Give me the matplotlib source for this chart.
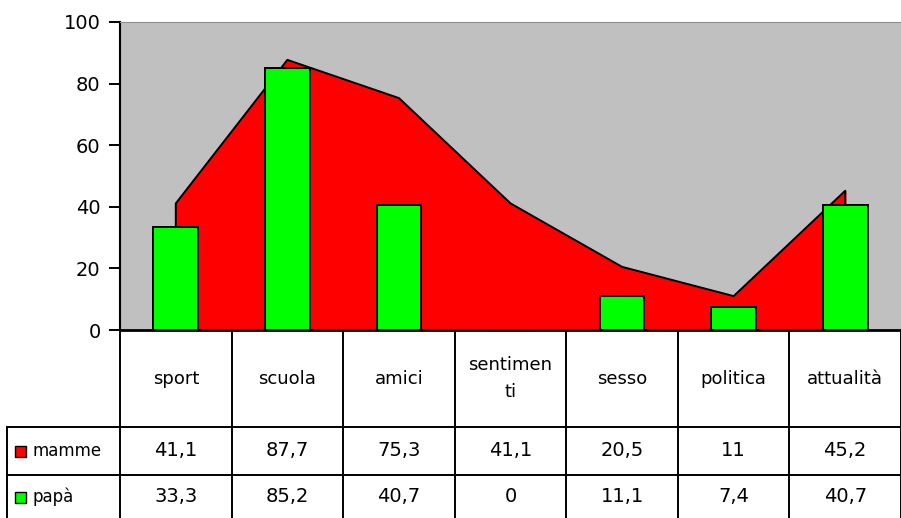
import numpy as np
import matplotlib.pyplot as plt

categorie = ['sport', 'scuola', 'amici', 'sentimen\nti', 'sesso', 'politica', 'attualità']
mamme = [41.1, 87.7, 75.3, 41.1, 20.5, 11, 45.2]
papa = [33.3, 85.2, 40.7, 0, 11.1, 7.4, 40.7]
serie = ['mamme', 'papà']
colori = ['#ff0000', '#00ff00']

W, H = 901, 518
left, top, bottom = 120, 22, 330   # pixel layout of the plot box
row_y = [330, 427, 475, 518]       # table rows (header, mamme, papà)

plt.rcParams['font.family'] = 'DejaVu Sans'
fig = plt.figure(figsize=(W / 100, H / 100), dpi=100)

ax = fig.add_axes([left / W, (H - bottom) / H, (W - left) / W, (bottom - top) / H])
n = len(categorie)
x = np.arange(n)
ax.set_facecolor('#c0c0c0')
ax.fill_between(x, 0, mamme, color=colori[0], zorder=2)
ax.plot(np.r_[x[0], x, x[-1]], np.r_[0, mamme, 0], color='black', lw=1.4, zorder=3)
ax.bar(x, papa, width=0.4, color=colori[1], edgecolor='black', lw=1.4, zorder=4)
ax.set_xlim(-0.5, n - 0.5)
ax.set_ylim(0, 100)
ax.set_yticks(range(0, 101, 20))
ax.tick_params(axis='y', length=8, width=1.4, labelsize=14, pad=6)
ax.set_xticks(np.arange(n + 1) - 0.5)
ax.set_xticklabels([])
ax.tick_params(axis='x', length=0)
ax.spines['right'].set_visible(False)
ax.spines['top'].set_color('#909090')
ax.spines['left'].set_linewidth(1.5)
ax.spines['bottom'].set_linewidth(2)
ax.spines['bottom'].set_zorder(5)

# data table under the chart, in pixel units
tab = fig.add_axes([0, 0, 1, 1])
tab.set_xlim(0, W)
tab.set_ylim(H, 0)
tab.axis('off')
cw = (W - left) / n
edges = [left + i * cw for i in range(n + 1)]
lk = dict(color='black', lw=1.4)
for e in edges:
    tab.plot([e, e], [row_y[0], row_y[-1]], **lk)
tab.plot([7, 7], [row_y[1], row_y[-1]], **lk)
for yy in row_y[1:3]:
    tab.plot([7, W], [yy, yy], **lk)

fs = 13
for i, c in enumerate(categorie):
    cx = (edges[i] + edges[i + 1]) / 2
    tab.text(cx, (row_y[0] + row_y[1]) / 2, c, ha='center', va='center', fontsize=fs, linespacing=1.6)
for r, (nome, vals) in enumerate(zip(serie, [mamme, papa])):
    cy = (row_y[r + 1] + row_y[r + 2]) / 2
    tab.add_patch(plt.Rectangle((15, cy - 5), 11, 11, facecolor=colori[r], edgecolor='black', lw=1))
    tab.text(32, cy, nome, ha='left', va='center', fontsize=fs - 1)
    for i, v in enumerate(vals):
        cx = (edges[i] + edges[i + 1]) / 2
        tab.text(cx, cy, f'{v:g}'.replace('.', ','), ha='center', va='center', fontsize=fs + 1)

fig.savefig('out.png', dpi=100)
